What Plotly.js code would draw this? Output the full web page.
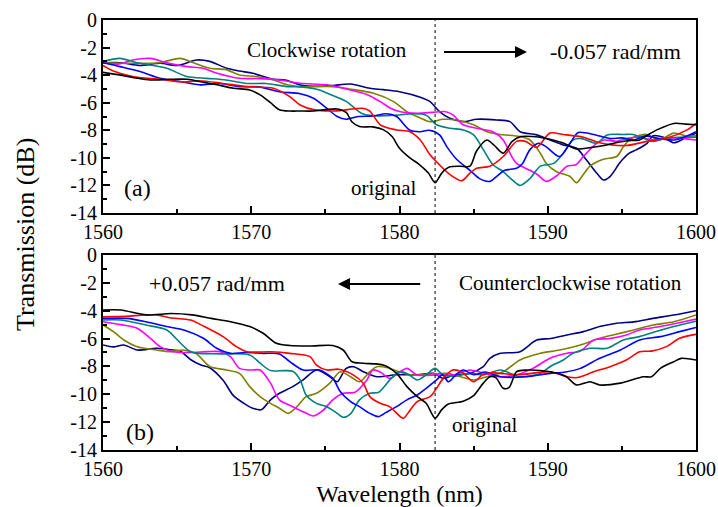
<!DOCTYPE html>
<html>
<head>
<meta charset="utf-8">
<script src="https://cdn.plot.ly/plotly-3.0.1.min.js"></script>
<style>html,body{margin:0;padding:0;background:#fff;}#chart{width:718px;height:507px;}</style>
</head>
<body>
<div id="chart"></div>
<script>
// ---------- Panel (a): clockwise rotation ----------
const aBlackX = [1560,1561.2,1562.2,1563.2,1564.5,1565.7,1566.7,1567.7,1568.8,1569.9,1570.6,1571.3,1571.9,1572.6,1573.3,1574.2,1575.0,1575.8,1576.4,1576.8,1577.3,1578.2,1578.9,1579.5,1580.0,1580.7,1581.3,1581.95,1582.4,1582.85,1583.4,1584.1,1584.75,1585.2,1585.9,1586.4,1587.0,1587.6,1588.2,1589.0,1589.8,1591.0,1591.95,1592.9,1593.8,1594.6,1595.4,1596.2,1596.8,1597.4,1598.5,1599.3,1600];
const aBlackY = [-3.8,-4.0,-4.2,-4.35,-4.3,-4.3,-4.5,-4.7,-4.95,-5.07,-5.43,-6.0,-6.5,-6.6,-6.6,-6.6,-6.5,-6.45,-6.7,-7.4,-7.73,-7.75,-7.95,-8.45,-9.3,-10.0,-10.45,-11.1,-11.8,-11.1,-10.65,-10.6,-10.6,-9.5,-8.7,-9.1,-9.66,-8.8,-8.45,-8.45,-8.57,-8.9,-9.35,-9.25,-9.1,-8.9,-8.75,-8.7,-8.3,-7.95,-7.5,-7.55,-7.6];

const aRedX = [1560,1560.7,1562.0,1563.9,1565.4,1566.5,1568.1,1569.7,1571.5,1572.6,1573.3,1574.2,1575.5,1576.5,1577.5,1578.0,1578.7,1579.8,1580.7,1581.4,1582.06,1582.7,1583.4,1584.2,1584.75,1585.2,1586.1,1587.0,1587.9,1588.5,1589.25,1590.15,1591.05,1592.4,1593.5,1595.3,1596.7,1598.0,1599.4,1600];
const aRedY = [-3.3,-3.7,-4.1,-4.3,-4.5,-4.4,-4.6,-4.83,-4.95,-5.56,-6.16,-6.5,-6.6,-6.5,-6.4,-6.6,-7.6,-7.97,-8.1,-8.7,-9.78,-10.5,-11.2,-11.65,-11.1,-10.75,-10.6,-9.9,-8.8,-8.8,-9.23,-8.2,-8.3,-8.5,-8.9,-9.1,-8.8,-8.57,-7.97,-7.5];

const aBlueX = [1560,1561.15,1562.5,1563.85,1565.4,1566.5,1567.9,1569.2,1570.5,1571.9,1573.3,1574.2,1575.1,1575.8,1576.4,1577.2,1578.2,1579.1,1579.8,1580.7,1581.4,1582.0,1582.7,1583.2,1583.85,1584.75,1585.4,1586.1,1586.6,1587.1,1587.9,1588.3,1588.8,1589.4,1589.9,1590.8,1591.5,1592.06,1593.1,1594.2,1595.0,1595.8,1596.6,1597.5,1598.5,1599.2,1600];
const aBlueY = [-3.1,-3.38,-3.74,-4.23,-4.5,-4.7,-4.6,-4.83,-4.85,-5.2,-5.35,-5.67,-6.4,-7.0,-7.2,-7.0,-6.96,-6.8,-7.0,-8.0,-8.1,-8.0,-8.33,-9.2,-10.1,-10.9,-11.5,-11.7,-11.3,-10.9,-10.75,-10.4,-9.4,-8.94,-9.2,-9.9,-8.94,-8.16,-8.3,-8.6,-8.55,-8.7,-8.4,-8.6,-8.7,-8.5,-8.1];

const aTealX = [1560,1561.15,1562.3,1564.3,1565.65,1567.0,1568.3,1569.7,1571.0,1572.4,1573.3,1574.6,1575.1,1576.4,1577.5,1578.5,1579.8,1580.9,1581.8,1582.5,1583.4,1584.3,1585.0,1585.65,1586.3,1587.0,1587.6,1588.13,1588.8,1589.5,1590.4,1591.05,1591.7,1592.3,1593.3,1594.0,1595.1,1595.75,1596.5,1597.1,1597.8,1598.8,1600];
const aTealY = [-3.0,-2.78,-3.1,-3.5,-4.1,-4.23,-4.35,-4.6,-4.6,-4.83,-4.85,-5.07,-5.3,-5.9,-6.8,-6.95,-6.9,-6.8,-6.9,-7.6,-7.85,-7.97,-8.33,-9.4,-10.5,-11.0,-11.6,-12.0,-11.5,-10.6,-10.4,-9.66,-8.7,-8.6,-8.94,-8.33,-8.3,-8.3,-8.6,-8.8,-8.6,-8.5,-8.5];

const aMagentaX = [1560,1561.0,1562.0,1563.2,1564.3,1565.65,1566.75,1567.7,1569.2,1570.5,1571.9,1573.3,1575.1,1576.4,1577.8,1578.7,1579.4,1580.0,1581.2,1582.2,1583.05,1583.6,1584.3,1585.2,1586.3,1587.0,1587.45,1587.9,1588.8,1589.3,1589.9,1590.6,1591.3,1591.9,1592.4,1593.3,1593.8,1594.65,1595.3,1596.1,1597.1,1598.5,1600];
const aMagentaY = [-3.1,-3.2,-2.9,-2.78,-3.1,-3.38,-3.5,-3.86,-4.23,-4.25,-4.35,-4.59,-4.7,-5.0,-5.4,-5.92,-6.4,-6.64,-6.76,-6.7,-6.64,-6.88,-7.6,-7.85,-8.1,-8.7,-9.66,-10.4,-10.9,-11.2,-11.7,-11.3,-10.6,-10.5,-9.9,-8.94,-8.7,-8.8,-8.6,-8.5,-8.7,-8.55,-8.7];

const aOliveX = [1560,1562.0,1563.8,1565.2,1566.1,1567.2,1568.3,1569.2,1570.3,1571.5,1572.4,1573.3,1575.5,1576.6,1578.2,1579.6,1580.5,1581.4,1582.06,1582.95,1583.85,1585.0,1585.9,1586.8,1588.1,1588.8,1589.5,1589.9,1590.6,1591.5,1591.95,1592.4,1592.85,1593.75,1594.65,1595.1,1595.6,1596.7,1597.5,1598.5,1599.3,1600];
const aOliveY = [-3.1,-3.14,-3.1,-2.78,-3.1,-3.5,-3.6,-3.99,-4.1,-4.35,-4.7,-4.83,-4.83,-5.0,-5.3,-5.92,-6.64,-7.1,-7.37,-7.2,-7.25,-7.6,-8.1,-8.3,-8.45,-8.7,-9.66,-10.4,-11.0,-11.35,-11.8,-11.2,-10.6,-10.1,-9.9,-9.2,-8.6,-8.3,-8.7,-8.2,-8.4,-8.4];

const aNavyX = [1560,1561.2,1562.5,1563.85,1565.0,1566.3,1567.2,1568.35,1569.2,1570.1,1571.5,1572.3,1573.3,1574.6,1575.5,1576.7,1578.0,1578.9,1580.0,1581.4,1582.06,1582.7,1583.4,1584.3,1585.2,1586.55,1587.45,1588.13,1589.25,1590.15,1591.05,1591.95,1592.6,1593.3,1593.75,1594.2,1594.9,1595.5,1596.0,1596.7,1597.1,1597.8,1598.5,1599.2,1600];
const aNavyY = [-3.1,-3.1,-3.3,-3.14,-3.3,-2.9,-3.0,-3.5,-3.7,-3.86,-4.3,-4.35,-4.71,-4.8,-4.75,-4.64,-4.95,-5.05,-5.2,-5.6,-5.92,-6.64,-7.13,-7.37,-7.2,-7.25,-7.37,-8.1,-8.33,-8.7,-9.06,-9.3,-10.14,-11.1,-11.6,-11.35,-10.3,-9.66,-9.4,-8.94,-8.4,-8.5,-8.9,-8.6,-8.2];

// ---------- Panel (b): counterclockwise rotation ----------
const bBlackX = [1560,1561.2,1562.9,1564.6,1566.0,1567.3,1568.6,1569.9,1570.8,1571.7,1572.6,1574.0,1575.5,1576.2,1576.8,1577.55,1578.9,1579.8,1580.5,1581.2,1581.8,1582.4,1582.85,1583.3,1584.3,1585.0,1585.65,1586.1,1586.5,1587.0,1587.4,1587.9,1588.6,1590.15,1591.2,1591.95,1592.85,1593.5,1594.9,1596.45,1597.0,1597.6,1598.5,1599.0,1600];
const bBlackY = [-3.95,-3.95,-4.3,-4.2,-4.3,-4.55,-4.79,-5.14,-5.62,-6.34,-6.5,-6.53,-6.5,-6.82,-7.66,-7.77,-7.9,-8.5,-9.45,-10.17,-10.65,-11.72,-11.1,-10.7,-10.5,-10.1,-9.2,-8.74,-8.8,-9.57,-9.5,-8.38,-8.26,-8.38,-8.7,-9.33,-9.1,-9.33,-9.2,-8.74,-8.74,-8.14,-7.66,-7.42,-7.54];

const bRedX = [1560,1561.5,1563.6,1564.5,1565.9,1566.77,1568.1,1569.0,1569.7,1571.3,1572.6,1573.96,1574.4,1575.1,1575.9,1576.9,1577.55,1578.0,1578.7,1579.35,1580.25,1580.6,1581.2,1582.06,1582.5,1582.95,1583.6,1584.2,1585.0,1585.6,1586.2,1586.8,1588.0,1590.15,1591.3,1592.0,1593.1,1594.2,1595.3,1596.2,1597.0,1598.0,1598.9,1600];
const bRedY = [-4.43,-4.4,-4.3,-4.5,-4.67,-5.1,-5.86,-6.58,-6.94,-6.95,-7.06,-7.3,-7.9,-8.26,-8.2,-8.62,-9.2,-10.17,-10.65,-10.9,-11.73,-11.3,-10.53,-10.17,-9.57,-8.86,-8.26,-8.4,-9.1,-8.6,-8.45,-8.5,-8.6,-8.38,-8.74,-8.8,-8.38,-8.02,-7.54,-6.94,-6.9,-6.58,-5.98,-5.7];

const bBlueX = [1560,1561.6,1562.9,1564.3,1565.5,1566.77,1567.67,1568.6,1569.6,1570.8,1571.9,1572.6,1573.5,1574.6,1575.5,1576.0,1576.7,1577.3,1578.0,1578.57,1579.1,1579.8,1580.5,1581.2,1581.8,1582.5,1582.9,1583.3,1583.8,1584.3,1585.0,1585.8,1586.8,1588.5,1590.15,1591.2,1592.2,1593.5,1594.9,1596.2,1597.6,1598.9,1600];
const bBlueY = [-4.55,-4.55,-4.79,-5.14,-5.4,-5.98,-6.7,-7.06,-7.0,-7.06,-7.1,-7.66,-8.26,-8.26,-8.86,-9.8,-10.53,-10.89,-11.37,-11.6,-11.3,-10.89,-10.4,-10.05,-9.57,-8.97,-8.6,-9.1,-8.6,-8.26,-8.6,-8.4,-8.74,-8.74,-8.5,-8.4,-8.14,-7.42,-6.82,-6.1,-5.86,-5.5,-5.2];

const bTealX = [1560,1561.2,1562.9,1564.3,1565.2,1565.9,1566.5,1568.0,1569.9,1570.6,1571.3,1572.2,1572.8,1573.3,1573.7,1574.4,1575.1,1575.8,1576.2,1576.7,1577.3,1578.0,1578.6,1579.35,1580.0,1580.5,1581.2,1581.8,1582.4,1582.95,1583.8,1584.75,1585.7,1586.8,1588.1,1589.5,1590.15,1591.05,1591.7,1592.85,1594.0,1595.1,1596.2,1597.3,1598.5,1600];
const bTealY = [-4.67,-4.67,-5.03,-5.38,-6.3,-6.95,-7.06,-7.1,-7.18,-7.77,-8.3,-8.3,-8.35,-8.97,-10.05,-10.65,-10.89,-11.37,-11.65,-11.4,-10.4,-9.93,-9.85,-8.97,-8.38,-8.5,-8.97,-8.6,-8.14,-8.62,-8.7,-8.5,-8.6,-8.26,-8.74,-8.5,-8.02,-7.54,-7.06,-6.7,-6.7,-6.1,-5.86,-5.5,-5.14,-4.75];

const bMagentaX = [1560,1561.2,1562.3,1563.2,1563.85,1564.7,1565.9,1567.0,1567.9,1568.6,1569.2,1570.0,1570.6,1571.3,1571.9,1572.8,1573.5,1574.2,1574.8,1575.5,1576.2,1577.0,1577.8,1578.2,1578.7,1579.35,1579.9,1580.5,1581.2,1582.5,1583.7,1584.75,1585.7,1586.8,1587.9,1589.0,1590.15,1591.3,1592.2,1593.1,1594.2,1595.3,1596.2,1597.6,1598.7,1600];
const bMagentaY = [-4.79,-5.0,-5.26,-5.98,-6.58,-6.94,-7.0,-6.94,-6.94,-7.3,-8.14,-8.26,-8.26,-9.2,-10.4,-10.89,-11.25,-11.56,-11.2,-10.4,-9.93,-9.85,-8.97,-8.26,-8.4,-8.86,-8.5,-8.14,-8.62,-8.62,-8.6,-8.26,-8.5,-8.74,-8.6,-8.14,-7.42,-7.06,-6.9,-6.1,-6.0,-5.74,-5.38,-5.14,-4.9,-4.6];

const bOliveX = [1560,1560.7,1561.4,1562.3,1563.6,1564.5,1565.4,1566.3,1567.2,1568.35,1569.2,1569.9,1570.6,1571.3,1571.9,1572.5,1573.07,1573.7,1574.4,1575.3,1576.0,1576.7,1577.3,1578.0,1578.46,1579.2,1580.0,1580.9,1582.0,1583.2,1584.0,1585.0,1586.0,1587.0,1588.13,1589.5,1590.8,1592.2,1593.5,1594.4,1595.8,1597.1,1598.5,1600];
const bOliveY = [-5.03,-5.5,-6.1,-6.58,-6.82,-6.94,-6.82,-7.1,-8.0,-8.26,-8.5,-9.45,-10.17,-10.65,-11.0,-11.37,-10.9,-10.17,-9.93,-9.2,-8.38,-8.74,-9.1,-8.38,-8.02,-8.1,-8.4,-8.62,-8.55,-8.5,-8.7,-8.97,-8.7,-8.38,-7.54,-7.06,-6.82,-6.46,-5.98,-5.74,-5.38,-5.03,-4.79,-4.3];

const bNavyX = [1560,1560.7,1561.4,1562.3,1563.6,1564.5,1565.2,1565.9,1566.6,1567.2,1568.1,1568.8,1569.5,1570.1,1570.7,1571.3,1571.9,1572.8,1573.5,1574.4,1575.3,1575.8,1576.4,1576.9,1577.6,1578.46,1579.8,1581.2,1582.3,1582.95,1583.7,1584.75,1585.65,1586.1,1586.8,1588.13,1589.25,1590.2,1591.3,1592.4,1593.5,1594.65,1595.8,1597.1,1598.5,1600];
const bNavyY = [-6.46,-6.6,-6.46,-6.82,-6.7,-6.8,-6.9,-7.5,-7.9,-8.1,-9.0,-10.1,-10.65,-11.0,-11.1,-10.4,-9.93,-9.45,-8.97,-8.26,-8.74,-9.1,-8.14,-8.02,-8.4,-8.74,-8.6,-8.6,-8.5,-8.86,-8.6,-8.5,-8.02,-7.42,-7.06,-6.94,-6.1,-6.0,-5.74,-5.5,-5.14,-4.9,-4.8,-4.55,-4.31,-4.0];

// ---------- axes labels ----------
const xTickVals = [1560,1570,1580,1590,1600];
const xTickText = ['1560','1570','1580','1590','1600'];
const yTickVals = [0,-2,-4,-6,-8,-10,-12,-14];
const yTickText = ['0','-2','-4','-6','-8','-10','-12','-14'];
const originalWavelength = 1582.4;

const colors = {black:'#000000', red:'#ff0000', blue:'#0000ff', teal:'#008080', magenta:'#ff00ff', olive:'#808000', navy:'#000080'};

function tr(x, y, c, xa, ya) {
  return {x: x, y: y, type: 'scatter', mode: 'lines', xaxis: xa, yaxis: ya,
    line: {color: c, width: 1.6, shape: 'spline', smoothing: 0.8}, hoverinfo: 'skip', showlegend: false};
}

const data = [
  tr(aNavyX, aNavyY, colors.navy, 'x', 'y'),
  tr(aOliveX, aOliveY, colors.olive, 'x', 'y'),
  tr(aMagentaX, aMagentaY, colors.magenta, 'x', 'y'),
  tr(aTealX, aTealY, colors.teal, 'x', 'y'),
  tr(aBlueX, aBlueY, colors.blue, 'x', 'y'),
  tr(aRedX, aRedY, colors.red, 'x', 'y'),
  tr(aBlackX, aBlackY, colors.black, 'x', 'y'),
  tr(bNavyX, bNavyY, colors.navy, 'x2', 'y2'),
  tr(bOliveX, bOliveY, colors.olive, 'x2', 'y2'),
  tr(bMagentaX, bMagentaY, colors.magenta, 'x2', 'y2'),
  tr(bTealX, bTealY, colors.teal, 'x2', 'y2'),
  tr(bBlueX, bBlueY, colors.blue, 'x2', 'y2'),
  tr(bRedX, bRedY, colors.red, 'x2', 'y2'),
  tr(bBlackX, bBlackY, colors.black, 'x2', 'y2')
];

const FONT = '"Liberation Serif", "Times New Roman", serif';

function xAxis(anchor) {
  return {anchor: anchor, range: [1560, 1600], showline: true, linecolor: '#000', linewidth: 2, mirror: true,
    ticks: 'inside', ticklen: 7, tickwidth: 2, tickcolor: '#000', tickvals: xTickVals, ticktext: xTickText,
    minor: {dtick: 5, tick0: 1560, ticks: 'inside', ticklen: 4, tickwidth: 2, tickcolor: '#000'},
    showgrid: false, zeroline: false, tickfont: {family: FONT, size: 20, color: '#000'}, fixedrange: true};
}
function yAxis(anchor, domain) {
  return {anchor: anchor, domain: domain, range: [-14, 0], showline: true, linecolor: '#000', linewidth: 2, mirror: true,
    ticks: 'inside', ticklen: 7, tickwidth: 2, tickcolor: '#000', tickvals: yTickVals, ticktext: yTickText,
    minor: {dtick: 1, tick0: 0, ticks: 'inside', ticklen: 4, tickwidth: 2, tickcolor: '#000'},
    showgrid: false, zeroline: false, tickfont: {family: FONT, size: 20, color: '#000'}, fixedrange: true};
}

const layout = {
  width: 718, height: 507,
  margin: {l: 103, r: 22, t: 20, b: 57},
  paper_bgcolor: '#fff', plot_bgcolor: '#fff',
  font: {family: FONT, color: '#000'},
  showlegend: false,
  xaxis: xAxis('y'),
  yaxis: yAxis('x', [0.551, 1]),
  xaxis2: Object.assign(xAxis('y2'), {title: {text: 'Wavelength (nm)', font: {family: FONT, size: 24, color: '#000'}, standoff: 6}}),
  yaxis2: yAxis('x2', [0, 0.4535]),
  shapes: [
    {type: 'line', xref: 'x', yref: 'y', x0: originalWavelength, x1: originalWavelength, y0: -14, y1: 0, line: {color: '#000', width: 1, dash: 'dot'}},
    {type: 'line', xref: 'x2', yref: 'y2', x0: originalWavelength, x1: originalWavelength, y0: -14, y1: 0, line: {color: '#000', width: 1, dash: 'dot'}}
  ],
  annotations: [
    {xref: 'x', yref: 'y', x: 1575.14, y: -2.17, text: 'Clockwise rotation', showarrow: false, font: {family: FONT, size: 21, color: '#000'}},
    {xref: 'x', yref: 'y', x: 1594.54, y: -2.3, text: '-0.057 rad/mm', showarrow: false, font: {family: FONT, size: 22, color: '#000'}},
    {xref: 'x', yref: 'y', x: 1588.6, y: -2.32, ax: 1582.9, ay: -2.32, axref: 'x', ayref: 'y', text: '', showarrow: true, arrowhead: 2, arrowsize: 1.2, arrowwidth: 2, arrowcolor: '#000'},
    {xref: 'x', yref: 'y', x: 1578.95, y: -12.2, text: 'original', showarrow: false, font: {family: FONT, size: 21, color: '#000'}},
    {xref: 'x', yref: 'y', x: 1562.33, y: -12.2, text: '(a)', showarrow: false, font: {family: FONT, size: 24, color: '#000'}},
    {xref: 'x2', yref: 'y2', x: 1567.67, y: -2.03, text: '+0.057 rad/mm', showarrow: false, font: {family: FONT, size: 22, color: '#000'}},
    {xref: 'x2', yref: 'y2', x: 1575.85, y: -2.08, ax: 1581.5, ay: -2.08, axref: 'x2', ayref: 'y2', text: '', showarrow: true, arrowhead: 2, arrowsize: 1.2, arrowwidth: 2, arrowcolor: '#000'},
    {xref: 'x2', yref: 'y2', x: 1591.53, y: -2.03, text: 'Counterclockwise rotation', showarrow: false, font: {family: FONT, size: 21, color: '#000'}},
    {xref: 'x2', yref: 'y2', x: 1585.7, y: -12.2, text: 'original', showarrow: false, font: {family: FONT, size: 21, color: '#000'}},
    {xref: 'x2', yref: 'y2', x: 1562.5, y: -12.68, text: '(b)', showarrow: false, font: {family: FONT, size: 24, color: '#000'}},
    {xref: 'paper', yref: 'paper', x: -0.1315, y: 0.5, xanchor: 'center', yanchor: 'middle', textangle: -90, text: 'Transmission (dB)', showarrow: false, font: {family: FONT, size: 26, color: '#000'}}
  ]
};

Plotly.newPlot('chart', data, layout, {displayModeBar: false, staticPlot: true});
</script>
</body>
</html>
